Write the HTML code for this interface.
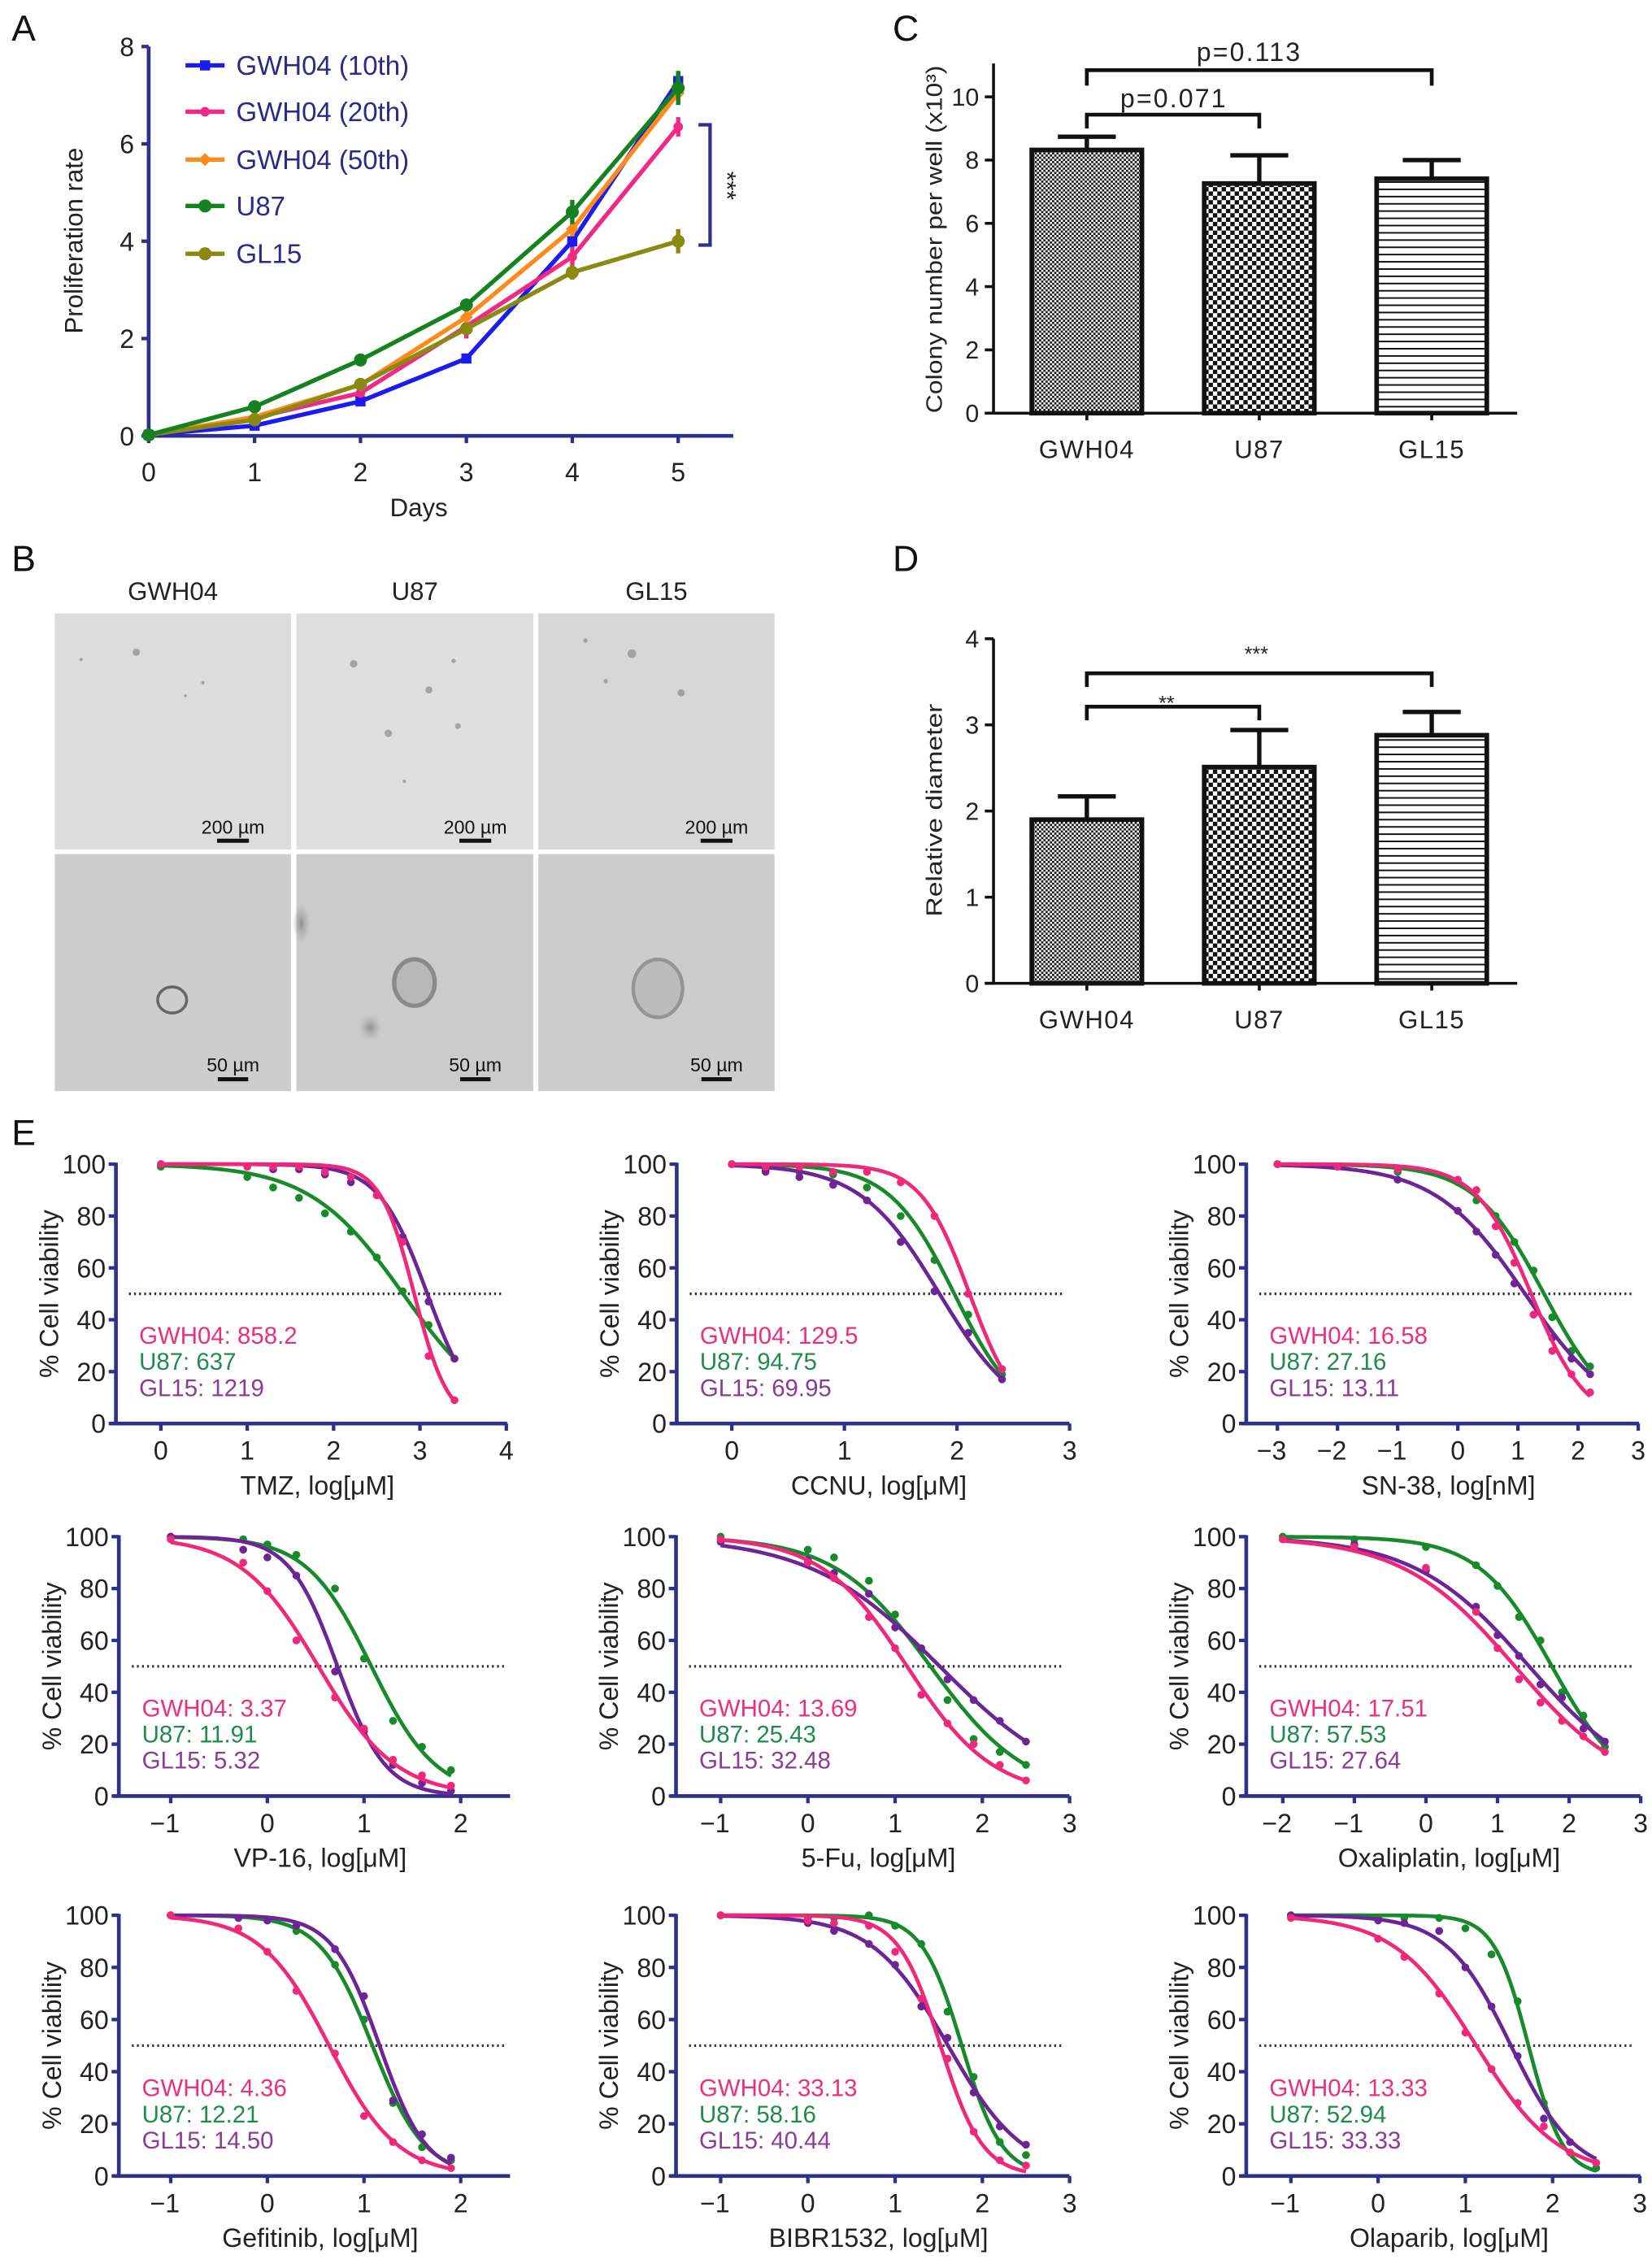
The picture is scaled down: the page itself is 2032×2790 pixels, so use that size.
<!DOCTYPE html>
<html><head><meta charset="utf-8">
<style>
html,body{margin:0;padding:0;background:#fff;}
svg{display:block;}
text{font-family:"Liberation Sans",Arial,sans-serif;}
</style></head>
<body>
<svg id="fig" xmlns="http://www.w3.org/2000/svg" width="2032" height="2790" viewBox="0 0 1140 1565">
<defs>
<pattern id="chkFine" patternUnits="userSpaceOnUse" width="3" height="3"><rect width="3" height="3" fill="#fff"/><rect width="1.5" height="1.5" fill="#111"/><rect x="1.5" y="1.5" width="1.5" height="1.5" fill="#111"/></pattern>
<pattern id="chkBig" patternUnits="userSpaceOnUse" width="6" height="6"><rect width="6" height="6" fill="#fff"/><rect width="3" height="3" fill="#111"/><rect x="3" y="3" width="3" height="3" fill="#111"/></pattern>
<pattern id="hLines" patternUnits="userSpaceOnUse" width="6" height="5"><rect width="6" height="5" fill="#fff"/><rect y="0" width="6" height="1.1" fill="#111"/></pattern>
<radialGradient id="blur1"><stop offset="0" stop-color="#888" stop-opacity="0.9"/><stop offset="1" stop-color="#aaa" stop-opacity="0"/></radialGradient>
</defs>
</svg>
<script>
// ================= DATA =================
// Panel A
const aDays=[0,1,2,3,4,5];
const aTicksX=[0,1,2,3,4,5];
const aTicksY=[0,2,4,6,8];
const aNames=["GWH04 (10th)","GWH04 (20th)","GWH04 (50th)","U87","GL15"];
const aG10=[0.02,0.21,0.71,1.59,4.0,7.29];
const aG20=[0.02,0.37,0.88,2.25,3.68,6.35];
const aG50=[0.02,0.39,1.05,2.44,4.25,7.04];
const aU87=[0.02,0.6,1.56,2.69,4.6,7.15];
const aGL15=[0.02,0.33,1.06,2.2,3.36,4.0];
const aErrG10=[0,0.03,0.05,0.08,0.12,0.2];
const aErrG20=[0,0.03,0.06,0.25,0.2,0.2];
const aErrG50=[0,0.03,0.05,0.2,0.15,0.2];
const aErrU87=[0,0.05,0.1,0.1,0.25,0.35];
const aErrGL15=[0,0.03,0.05,0.1,0.15,0.25];
// Panel C
const cCats=["GWH04","U87","GL15"];
const cVals=[8.32,7.26,7.41];
const cErr=[0.42,0.89,0.59];
const cTicks=[0,2,4,6,8,10];
// Panel D
const dCats=["GWH04","U87","GL15"];
const dVals=[1.9,2.51,2.88];
const dErr=[0.27,0.43,0.27];
const dTicks=[0,1,2,3,4];
// Panel E
const eXLabels=["TMZ, log[μM]","CCNU, log[μM]","SN-38, log[nM]","VP-16, log[μM]","5-Fu, log[μM]","Oxaliplatin, log[μM]","Gefitinib, log[μM]","BIBR1532, log[μM]","Olaparib, log[μM]"];
const eXTicks=[[0,1,2,3,4],[0,1,2,3],[-3,-2,-1,0,1,2,3],[-1,0,1,2],[-1,0,1,2,3],[-2,-1,0,1,2,3],[-1,0,1,2],[-1,0,1,2,3],[-1,0,1,2,3]];
const eYTicks=[0,20,40,60,80,100];
const eXs=[
 [0,1,1.3,1.6,1.9,2.2,2.5,2.8,3.1,3.4],
 [0,0.3,0.6,0.9,1.2,1.5,1.8,2.1,2.4],
 [-3,-2,-1,0,0.31,0.63,0.94,1.26,1.57,1.89,2.2],
 [-1,-0.25,0,0.3,0.7,1.0,1.3,1.6,1.9],
 [-1,0,0.3,0.7,1.0,1.3,1.6,1.9,2.2,2.5],
 [-2,-1,0,0.7,1.0,1.3,1.6,1.9,2.2,2.5],
 [-1,-0.3,0,0.3,0.7,1.0,1.3,1.6,1.9],
 [-1,0,0.3,0.7,1.0,1.3,1.6,1.9,2.2,2.5],
 [-1,0,0.3,0.7,1.0,1.3,1.6,1.9,2.2,2.5]
];
const eGWH04=[
 [100,99,99,99,97,95,88,70,26,9],
 [100,99,99,97,97,93,80,50,21],
 [100,99,98,94,90,76,62,42,28,19,12],
 [99,90,79,60,38,26,14,8,4],
 [99,90,84,69,57,39,28,20,12,6],
 [99,96,88,71,57,45,36,29,23,17],
 [100,95,86,71,47,23,13,6,3],
 [100,98,97,96,86,68,45,17,6,4],
 [99,91,84,70,55,41,28,19,9,5]
];
const eU87=[
 [99,95,91,87,81,74,64,51,38,25],
 [100,98,97,96,91,80,63,42,19],
 [100,99,97,93,86,80,70,59,41,28,22],
 [100,99,97,93,80,53,29,19,10],
 [100,95,92,83,70,56,37,22,17,12],
 [100,99,96,89,81,69,60,40,31,19],
 [100,99,98,94,81,60,28,11,6],
 [100,99,99,100,96,89,63,38,13,8],
 [100,99,99,99,95,85,67,28,9,3]
];
const eGL15=[
 [100,99,98,98,96,93,88,72,47,25],
 [100,97,95,92,86,70,51,35,17],
 [100,99,94,82,74,65,54,42,33,25,19],
 [100,95,92,85,48,25,12,5,2],
 [98,91,86,78,65,57,45,37,29,21],
 [99,97,87,73,62,54,43,38,26,21],
 [100,99,98,96,87,69,29,16,7],
 [100,97,94,89,81,65,53,32,19,12],
 [100,98,97,94,80,65,46,22,13,5]
];
const eIC50G=["858.2","129.5","16.58","3.37","13.69","17.51","4.36","33.13","13.33"];
const eIC50U=["637","94.75","27.16","11.91","25.43","57.53","12.21","58.16","52.94"];
const eIC50L=["1219","69.95","13.11","5.32","32.48","27.64","14.50","40.44","33.33"];
const eHillG=[2.2,2.0,0.95,1.08,0.88,0.55,1.23,1.8,0.92];
const eHillU=[0.8,1.5,0.75,1.3,0.79,0.85,1.6,1.9,2.2];
const eHillL=[1.54,1.23,0.58,1.75,0.58,0.54,1.8,1.0,1.18];

// ================= HELPERS =================
const NS='http://www.w3.org/2000/svg';
const svg=document.getElementById('fig');
function mk(tag,attrs,parent){const e=document.createElementNS(NS,tag);for(const k in attrs)e.setAttribute(k,attrs[k]);(parent||svg).appendChild(e);return e;}
function txt(s,attrs,parent){const e=mk('text',attrs,parent);e.textContent=s;return e;}
const NAVY="#2e3188";

// panel labels
[["A",8,28],["B",8,394],["C",616,28],["D",616,394],["E",8,790]].forEach(p=>{
  const t=txt(p[0],{x:p[1],y:p[2],'font-size':25,fill:'#111'});
  
  
});

// ================= PANEL A =================
(function(){
  const g=mk('g',{});
  
  
  const xA=d=>102.6+73.08*d, yA=v=>300.7-33.59*v;
  const yax=mk('line',{x1:xA(0),y1:yA(8),x2:xA(0),y2:yA(0),stroke:NAVY,'stroke-width':2.6},g);
  
  
  const xax=mk('line',{x1:xA(0)-4,y1:yA(0),x2:506,y2:yA(0),stroke:NAVY,'stroke-width':2.6},g);
  
  
  aTicksY.forEach(v=>{
    mk('line',{x1:xA(0)-5,x2:xA(0),y1:yA(v),y2:yA(v),stroke:NAVY,'stroke-width':2.4},g);
    const t=txt(String(v),{x:xA(0)-10,y:yA(v)+6.5,'font-size':18,'text-anchor':'end',fill:'#222'},g);
    
    
  });
  aTicksX.forEach(v=>{
    mk('line',{x1:xA(v),x2:xA(v),y1:yA(0),y2:yA(0)+5,stroke:NAVY,'stroke-width':2.4},g);
    const t=txt(String(v),{x:xA(v),y:332,'font-size':18,'text-anchor':'middle',fill:'#222'},g);
    
    
  });
  const xt=txt("Days",{x:289,y:356,'font-size':17.5,'text-anchor':'middle',fill:'#222'},g);
  
  
  const yt=txt("Proliferation rate",{x:0,y:0,'font-size':17.5,'text-anchor':'middle',fill:'#222',transform:'translate(57,166) rotate(-90)'},g);
  
  
  const series=[[aG10,aErrG10,"#1b1bf0","sq"],[aG20,aErrG20,"#f02a84","dot"],[aG50,aErrG50,"#ff8a1c","dia"],[aGL15,aErrGL15,"#8a8a12","circ"],[aU87,aErrU87,"#16821f","circ"]];
  const legOrder=[0,1,2,4,3];
  function marker(type,x,y,col,par){
    if(type==="sq") return mk('rect',{x:x-3.5,y:y-3.5,width:7,height:7,fill:col},par);
    if(type==="dia") return mk('path',{d:`M${x} ${y-4.5}L${x+4.5} ${y}L${x} ${y+4.5}L${x-4.5} ${y}Z`,fill:col},par);
    if(type==="dot") return mk('circle',{cx:x,cy:y,r:3.3,fill:col},par);
    return mk('circle',{cx:x,cy:y,r:4.5,fill:col},par);
  }
  series.forEach((s,si)=>{
    const sg=mk('g',{},g);
    
    
    const pts=aDays.map((d,i)=>xA(d)+','+yA(s[0][i])).join(' ');
    mk('polyline',{points:pts,fill:'none',stroke:s[2],'stroke-width':3},sg);
    aDays.forEach((d,i)=>{
      const e=s[1][i];
      if(e>0){mk('line',{x1:xA(d),x2:xA(d),y1:yA(s[0][i]+e),y2:yA(s[0][i]-e),stroke:s[2],'stroke-width':3},sg);}
      const m=marker(s[3],xA(d),yA(s[0][i]),s[2],sg);
      
      
    });
  });
  // legend
  const legY=[45,77,110,142,175];
  const legCols=["#1b1bf0","#f02a84","#ff8a1c","#16821f","#8a8a12"];
  const legM=["sq","dot","dia","circ","circ"];
  aNames.forEach((n,i)=>{
    const lg=mk('g',{},g);
    
    
    mk('line',{x1:128,x2:155,y1:legY[i],y2:legY[i],stroke:legCols[i],'stroke-width':3},lg);
    marker(legM[i],141.5,legY[i],legCols[i],lg);
    txt(n,{x:163,y:legY[i]+6.5,'font-size':18.5,fill:'#2b2b85'},lg);
  });
  const br=mk('path',{d:'M482 86H490V169H482',fill:'none',stroke:NAVY,'stroke-width':2.4},g);
  
  
  const st=txt("***",{x:0,y:0,'font-size':17,'text-anchor':'middle',fill:'#222',transform:'translate(496,128) rotate(90)'},g);
  
  
})();

// ================= PANEL B =================
(function(){
  const g=mk('g',{});
  
  
  const cols=[[37.8,163],[204.5,163.5],[371.5,163]];
  const rows=[[423.2,163],[589.3,163.6]];
  const fills=[["#dcdcdc","#dfdfdf","#d7d7d7"],["#cdcdcd","#cbcbcb","#cccccc"]];
  const titles=["GWH04","U87","GL15"];
  titles.forEach((t,i)=>{
    const e=txt(t,{x:cols[i][0]+cols[i][1]/2,y:414,'font-size':17.5,'text-anchor':'middle',fill:'#222'},g);
    
    
  });
  rows.forEach((r,ri)=>cols.forEach((c,ci)=>{
    const im=mk('g',{},g);
    
    
    mk('rect',{x:c[0],y:r[0],width:c[1],height:r[1],fill:fills[ri][ci]},im);
    const bw=ri?21:22;
    const bx=c[0]+c[1]-40;
    mk('rect',{x:bx-bw/2,y:r[0]+(ri?154:155.5),width:bw,height:2.8,fill:'#111'},im);
    txt(ri?"50 µm":"200 µm",{x:bx,y:r[0]+(ri?150:152),'font-size':13,'text-anchor':'middle',fill:'#111'},im);
  }));
  // some colony blobs
  const dots=[[94,450,2.5],[56,455,1.2],[140,471,1.2],[128,480,1],[244,458,2.6],[296,476,2.4],[268,506,2.6],[313,456,1.5],[316,501,2],[279,539,1.2],[404,442,1.5],[418,470,1.5],[436,451,3],[470,478,2.5]];
  dots.forEach(d=>{mk('circle',{cx:d[0],cy:d[1],r:d[2],fill:'#8a8a8a','fill-opacity':0.7},g);});
  mk('ellipse',{cx:118.8,cy:690,rx:10,ry:9,fill:'none',stroke:'#666','stroke-width':2},g);
  mk('ellipse',{cx:286,cy:678,rx:14,ry:16,fill:'#b8b8b8',stroke:'#8a8a8a','stroke-width':3},g);
  mk('ellipse',{cx:255.6,cy:709,rx:8,ry:9,fill:'url(#blur1)'},g);
  mk('ellipse',{cx:208,cy:637,rx:6,ry:14,fill:'url(#blur1)'},g);
  mk('ellipse',{cx:454,cy:682,rx:17,ry:20,fill:'#bcbcbc',stroke:'#959595','stroke-width':2.5},g);
})();

// ================= PANELS C & D =================
function barPanel(name,cats,vals,errs,ticks,yf,yTop,axisTitle,titleLen,titleCy,brackets){
  const g=mk('g',{});
  
  
  const axX=685.6, x0=yf(0);
  const centers=[750,869,988];
  const pats=["url(#chkFine)","url(#chkBig)","url(#hLines)"];
  const ya=mk('line',{x1:axX,x2:axX,y1:yTop,y2:x0,stroke:'#111','stroke-width':2},g);
  
  
  const xa=mk('line',{x1:axX-6,x2:1047,y1:x0,y2:x0,stroke:'#111','stroke-width':2},g);
  
  
  ticks.forEach(v=>{
    mk('line',{x1:axX-6,x2:axX,y1:yf(v),y2:yf(v),stroke:'#111','stroke-width':2},g);
    const t=txt(String(v),{x:axX-10,y:yf(v)+6,'font-size':17,'text-anchor':'end',fill:'#222'},g);
    
    
  });
  cats.forEach((c,i)=>{
    const cx=centers[i];
    const e=mk('line',{x1:cx,x2:cx,y1:yf(vals[i]),y2:yf(vals[i]+errs[i]),stroke:'#111','stroke-width':3},g);
    
    
    mk('line',{x1:cx-20,x2:cx+20,y1:yf(vals[i]+errs[i]),y2:yf(vals[i]+errs[i]),stroke:'#111','stroke-width':3},g);
    const b=mk('rect',{x:cx-38,y:yf(vals[i]),width:76,height:x0-yf(vals[i]),fill:pats[i],stroke:'#111','stroke-width':3.2},g);
    
    
    mk('line',{x1:cx,x2:cx,y1:x0,y2:x0+5,stroke:'#111','stroke-width':2},g);
    const t=txt(c,{x:cx,y:x0+31,'font-size':17.5,'text-anchor':'middle','letter-spacing':0.8,fill:'#222'},g);
    
    
  });
  const yt=txt(axisTitle,{x:0,y:0,'font-size':15.5,'text-anchor':'middle',fill:'#222',textLength:titleLen,lengthAdjust:'spacingAndGlyphs',transform:`translate(650,${titleCy}) rotate(-90)`},g);
  
  
  brackets.forEach(b=>{
    const p=mk('path',{d:`M${centers[0]} ${b[2]}V${b[1]}H${centers[b[0]]}V${b[2]}`,fill:'none',stroke:'#111','stroke-width':2.6},g);
    
    
    const t=txt(b[3],{x:b[4],y:b[5],'font-size':b[6],'text-anchor':'middle','letter-spacing':b[6]>16?1.2:0,fill:'#222'},g);
    
    
  });
}
barPanel('panel-c-colony-number',cCats,cVals,cErr,cTicks,v=>285-21.83*v,43.7,"Colony number per well (x10³)",240,165,
  [[2,48.3,59,"p=0.113",862,42,18],[1,79,88.5,"p=0.071",810,74,18]]);
barPanel('panel-d-relative-diameter',dCats,dVals,dErr,dTicks,v=>678.5-59.45*v,440.7,"Relative diameter",147,559,
  [[2,464.6,474,"***",867,456,14],[1,487.6,497,"**",805,490,14]]);

// ================= PANEL E =================
const eLayout=[
 {ax:80,x0:111,k:59.6,xend:350,top:803.3,bot:982.3},
 {ax:467,x0:505,k:77.7,xend:738,top:803.3,bot:982.3},
 {ax:860,x0:1006,k:41.5,xend:1131,top:803.3,bot:982.3},
 {ax:82,x0:184.5,k:66.7,xend:352,top:1060.4,bot:1239.4},
 {ax:466.5,x0:557.5,k:60.2,xend:738,top:1060.4,bot:1239.4},
 {ax:860,x0:984,k:49.4,xend:1132,top:1060.4,bot:1239.4},
 {ax:82,x0:184.5,k:66.7,xend:352,top:1321.7,bot:1501.6},
 {ax:466.5,x0:557.5,k:60.2,xend:738,top:1321.7,bot:1501.6},
 {ax:860,x0:951,k:60.2,xend:1132,top:1321.7,bot:1501.6}
];
const colG="#f0287a", colU="#178a2a", colL="#6d2596";
const tcolG="#e8307f", tcolU="#1f8c4c", tcolL="#8c3b98";
eLayout.forEach((L,ci)=>{
  const g=mk('g',{});
  
  
  const X=v=>L.x0+L.k*v, Y=v=>L.bot-(L.bot-L.top)*v/100;
  const ya=mk('line',{x1:L.ax,x2:L.ax,y1:L.top-1,y2:L.bot,stroke:NAVY,'stroke-width':2.6},g);
  
  
  const xa=mk('line',{x1:L.ax-4,x2:L.xend,y1:L.bot,y2:L.bot,stroke:NAVY,'stroke-width':2.6},g);
  
  
  eYTicks.forEach(v=>{
    mk('line',{x1:L.ax-5,x2:L.ax,y1:Y(v),y2:Y(v),stroke:NAVY,'stroke-width':2.4},g);
    const t=txt(String(v),{x:L.ax-7,y:Y(v)+6.5,'font-size':18,'text-anchor':'end',fill:'#222'},g);
    
    
  });
  eXTicks[ci].forEach(v=>{
    mk('line',{x1:X(v),x2:X(v),y1:L.bot,y2:L.bot+5,stroke:NAVY,'stroke-width':2.4},g);
    const t=txt(v<0?'−'+Math.abs(v):String(v),{x:X(v)-(v<0?4:0),y:L.bot+25,'font-size':18,'text-anchor':'middle',fill:'#222'},g);
    
    
  });
  const xt=txt(eXLabels[ci],{x:(L.ax+L.xend)/2+4,y:L.bot+49,'font-size':18,'text-anchor':'middle',fill:'#222'},g);
  
  
  const yt=txt("% Cell viability",{x:0,y:0,'font-size':18,'text-anchor':'middle',fill:'#222',transform:`translate(${L.ax-40},${(L.top+L.bot)/2}) rotate(-90)`},g);
  
  
  const ref=mk('line',{x1:L.ax+9,x2:L.xend-4,y1:Y(50),y2:Y(50),stroke:'#333','stroke-width':1.8,'stroke-dasharray':'1.3 2.2'},g);
  
  
  const xs=eXs[ci];
  const sets=[[eU87[ci],eIC50U[ci],eHillU[ci],colU,'u87'],[eGL15[ci],eIC50L[ci],eHillL[ci],colL,'gl15'],[eGWH04[ci],eIC50G[ci],eHillG[ci],colG,'gwh04']];
  sets.forEach(s=>{
    const sg=mk('g',{},g);
    
    
    const c=Math.log10(parseFloat(s[1])), h=s[2];
    const a=xs[0], b=xs[xs.length-1];
    let d='';
    for(let i=0;i<=120;i++){const x=a+(b-a)*i/120;const y=100/(1+Math.pow(10,h*(x-c)));d+=(i?'L':'M')+X(x).toFixed(2)+' '+Y(y).toFixed(2);}
    const cv=mk('path',{d:d,fill:'none',stroke:s[3],'stroke-width':2.6},sg);
    
    
    xs.forEach((x,i)=>{
      const p=mk('circle',{cx:X(x),cy:Y(s[0][i]),r:2.7,fill:s[3]},sg);
      
      
    });
  });
  const lab=[["GWH04: "+eIC50G[ci],tcolG],["U87: "+eIC50U[ci],tcolU],["GL15: "+eIC50L[ci],tcolL]];
  lab.forEach((l,i)=>{
    const t=txt(l[0],{x:L.ax+16,y:L.bot-55+18*i,'font-size':16.5,fill:l[1]},g);
    
    
  });
});
</script>
</body></html>
